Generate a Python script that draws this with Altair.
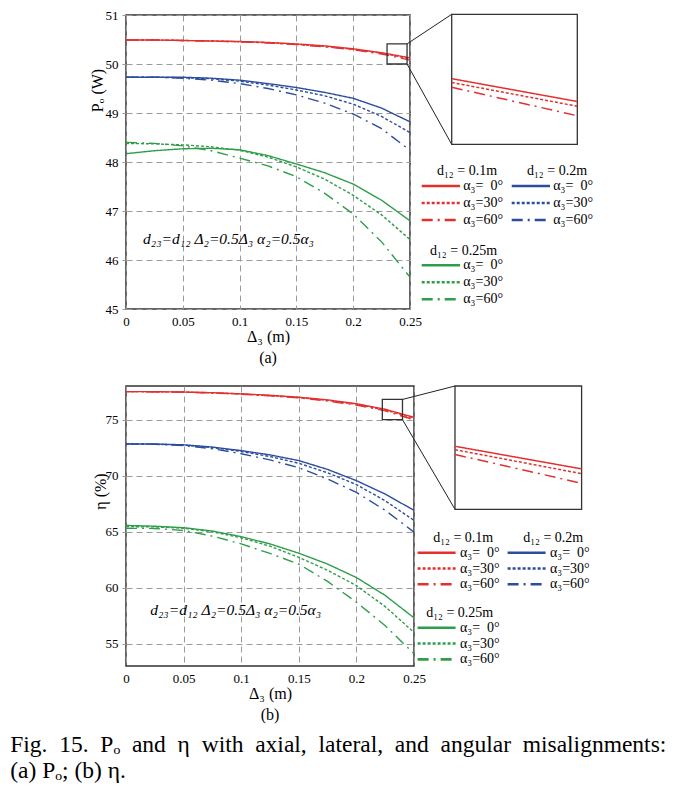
import altair as alt
import pandas as pd

FONT = "Liberation Serif"

# ---------------- data ----------------
X = [0, 0.025, 0.05, 0.075, 0.1, 0.125, 0.15, 0.175, 0.2, 0.225, 0.25]
X_TICKS = [0, 0.05, 0.1, 0.15, 0.2, 0.25]

SERIES = ["r0", "r30", "r60", "b0", "b30", "b60", "g0", "g30", "g60"]
COLORS = ["#e2302f"] * 3 + ["#2c4d9c"] * 3 + ["#2f9e4a"] * 3
DASHES = [[1, 0], [3, 2], [11, 5, 2, 5]] * 3
LEG_LABELS = ["α₃=\u20070°", "α₃=30°", "α₃=60°"] * 3
GROUP_TITLES = ["d₁₂ = 0.1m", "d₁₂ = 0.2m", "d₁₂ = 0.25m"]

# (a) Po (W)
PO_R0 = [50.49, 50.49, 50.48, 50.47, 50.46, 50.44, 50.41, 50.37, 50.31, 50.23, 50.125]
PO_R30 = [50.49, 50.49, 50.48, 50.47, 50.455, 50.435, 50.40, 50.36, 50.30, 50.22, 50.11]
PO_R60 = [50.49, 50.49, 50.48, 50.465, 50.45, 50.43, 50.395, 50.35, 50.29, 50.205, 50.08]
PO_B0 = [49.73, 49.73, 49.73, 49.71, 49.67, 49.60, 49.52, 49.42, 49.30, 49.10, 48.82]
PO_B30 = [49.73, 49.73, 49.72, 49.70, 49.65, 49.57, 49.47, 49.35, 49.18, 48.93, 48.60]
PO_B60 = [49.73, 49.73, 49.71, 49.67, 49.60, 49.50, 49.37, 49.20, 48.98, 48.68, 48.24]
PO_G0 = [48.17, 48.23, 48.27, 48.28, 48.25, 48.13, 47.96, 47.78, 47.55, 47.22, 46.80]
PO_G30 = [48.38, 48.37, 48.35, 48.31, 48.24, 48.10, 47.90, 47.65, 47.32, 46.92, 46.42]
PO_G60 = [48.40, 48.38, 48.33, 48.23, 48.08, 47.92, 47.70, 47.36, 46.94, 46.37, 45.65]
PO_ZOOM_X = [0.2298, 0.2474]
PO_ZOOM_Y = [50.0, 50.41]
PO_INSET_R0 = [50.207, 50.135]
PO_INSET_R30 = [50.195, 50.12]
PO_INSET_R60 = [50.18, 50.09]

# (b) eta (%)
ETA_R0 = [77.50, 77.49, 77.46, 77.40, 77.30, 77.17, 77.00, 76.76, 76.42, 75.92, 75.20]
ETA_R30 = [77.50, 77.49, 77.46, 77.39, 77.29, 77.15, 76.97, 76.72, 76.37, 75.86, 75.12]
ETA_R60 = [77.50, 77.49, 77.45, 77.38, 77.27, 77.12, 76.93, 76.66, 76.30, 75.78, 74.98]
ETA_B0 = [72.83, 72.82, 72.75, 72.55, 72.23, 71.85, 71.34, 70.55, 69.55, 68.35, 66.90]
ETA_B30 = [72.83, 72.81, 72.72, 72.50, 72.15, 71.70, 71.10, 70.25, 69.20, 67.75, 66.00]
ETA_B60 = [72.83, 72.80, 72.68, 72.40, 71.95, 71.40, 70.70, 69.70, 68.50, 66.90, 64.95]
ETA_G0 = [65.55, 65.48, 65.35, 65.05, 64.55, 63.90, 63.07, 62.10, 60.90, 59.30, 57.30]
ETA_G30 = [65.45, 65.42, 65.30, 64.98, 64.45, 63.70, 62.70, 61.55, 60.18, 58.30, 56.00]
ETA_G60 = [65.30, 65.28, 65.10, 64.60, 63.90, 63.05, 62.10, 60.55, 58.70, 56.60, 54.10]
ETA_ZOOM_X = [0.2225, 0.24]
ETA_ZOOM_Y = [75.0, 76.8]
ETA_INSET_R0 = [75.92, 75.59]
ETA_INSET_R30 = [75.87, 75.52]
ETA_INSET_R60 = [75.80, 75.38]

CAPTION_1 = ["Fig.", "15.", "Pₒ", "and", "η", "with", "axial,", "lateral,", "and", "angular", "misalignments:"]
CAPTION_2 = "(a) Pₒ; (b) η."

PANELS = [
    dict(
        tag="(a)", W=284, H=294, ydom=[45, 51], yticks=[45, 46, 47, 48, 49, 50, 51],
        ytitle="Pₒ (W)", ytx=-29, yty=75,
        series=[PO_R0, PO_R30, PO_R60, PO_B0, PO_B30, PO_B60, PO_G0, PO_G30, PO_G60],
        zx=PO_ZOOM_X, zy=PO_ZOOM_Y, inset=[PO_INSET_R0, PO_INSET_R30, PO_INSET_R60],
        inset_xr=[325.7, 451.3], inset_yr=[129.3, -0.7],
        note_x=0.015, note_y=46.43,
        leg=dict(x0=295.7, dx=90, y0=171, dy=17, gbase=4.66, hdr=-0.86, ln=0.426, lab=0.462, hx=0.837),
    ),
    dict(
        tag="(b)", W=288, H=280, ydom=[53, 78], yticks=[55, 60, 65, 70, 75],
        ytitle="η (%)", ytx=-26, yty=105,
        series=[ETA_R0, ETA_R30, ETA_R60, ETA_B0, ETA_B30, ETA_B60, ETA_G0, ETA_G30, ETA_G60],
        zx=ETA_ZOOM_X, zy=ETA_ZOOM_Y, inset=[ETA_INSET_R0, ETA_INSET_R30, ETA_INSET_R60],
        inset_xr=[329.0, 455.6], inset_yr=[123.3, 0.0],
        note_x=0.021, note_y=58.04,
        leg=dict(x0=291.6, dx=90, y0=166.7, dy=15.8, gbase=4.75, hdr=-0.92, ln=0.422, lab=0.471, hx=0.84),
    ),
]

COLOR = alt.Color("s:N", scale=alt.Scale(domain=SERIES, range=COLORS), legend=None)
DASH = alt.StrokeDash("s:N", scale=alt.Scale(domain=SERIES, range=DASHES), legend=None)


def make_panel(c):
    W, H = c["W"], c["H"]
    ylo, yhi = c["ydom"]
    xsc = alt.Scale(domain=[0, 0.25], nice=False, zero=False)
    ysc = alt.Scale(domain=[ylo, yhi], nice=False, zero=False)
    xax = alt.Axis(values=X_TICKS, format=".2~f", title="Δ₃ (m)", grid=True,
                   gridDash=[6, 4], gridColor="#9a9a9a", ticks=False, domain=False,
                   labelPadding=6, titlePadding=0, labelFlush=False)
    yax = alt.Axis(values=c["yticks"], title=c["ytitle"], grid=True, gridDash=[6, 4],
                   gridColor="#9a9a9a", tickSize=4, tickColor="#999999", domain=False,
                   labelPadding=4, titleAngle=270, titleX=c["ytx"], titleY=c["yty"],
                   titleAlign="center", titleBaseline="middle", labelFlush=False)

    def ex(f):
        return alt.X(f"{f}:Q", scale=xsc, axis=xax)

    def ey(f):
        return alt.Y(f"{f}:Q", scale=ysc, axis=yax)

    rows = []
    for s, ys in zip(SERIES, c["series"]):
        for x, y in zip(X, ys):
            rows.append({"s": s, "x": x, "y": y})
    df = pd.DataFrame(rows)

    lines = alt.Chart(df).mark_line(strokeWidth=1.4).encode(
        x=ex("x"), y=ey("y"), color=COLOR, strokeDash=DASH)

    note = alt.Chart(pd.DataFrame([{"x": c["note_x"], "y": c["note_y"],
                                    "t": "d₂₃=d₁₂  Δ₂=0.5Δ₃  α₂=0.5α₃"}])).mark_text(
        align="left", baseline="middle", font=FONT, fontSize=15.5, fontStyle="italic",
        color="black").encode(x=ex("x"), y=ey("y"), text="t:N")

    zx0, zx1 = c["zx"]
    zy0, zy1 = c["zy"]
    box = alt.Chart(pd.DataFrame([{"x": zx0, "x2": zx1, "y": zy0, "y2": zy1}])).mark_rect(
        fillOpacity=0, stroke="#333333", strokeWidth=1.3).encode(
        x=ex("x"), x2="x2:Q", y=ey("y"), y2="y2:Q")

    # connector endpoints: inset corners expressed in the main scale
    ixl = c["inset_xr"][0] / W * 0.25
    iyt = yhi - c["inset_yr"][1] / H * (yhi - ylo)
    iyb = yhi - c["inset_yr"][0] / H * (yhi - ylo)
    conn = alt.Chart(pd.DataFrame([
        {"x": zx1, "y": zy1, "x2": ixl, "y2": iyt},
        {"x": zx1, "y": zy0, "x2": ixl, "y2": iyb},
    ])).mark_rule(color="#222222", strokeWidth=1).encode(
        x=ex("x"), y=ey("y"), x2="x2:Q", y2="y2:Q")

    main = alt.layer(lines, note, box, conn)

    # inset
    ixsc = alt.Scale(domain=[zx0, zx1], range=c["inset_xr"], nice=False, zero=False)
    iysc = alt.Scale(domain=[zy0, zy1], range=c["inset_yr"], nice=False, zero=False)
    irows = []
    for s, ys in zip(SERIES[:3], c["inset"]):
        for x, y in zip([zx0, zx1], ys):
            irows.append({"s": s, "x": x, "y": y})
    iframe = alt.Chart(pd.DataFrame([{"x": zx0, "x2": zx1, "y": zy0, "y2": zy1}])).mark_rect(
        fill="white", stroke="#333333", strokeWidth=1.3).encode(
        x=alt.X("x:Q", scale=ixsc, axis=None), x2="x2:Q",
        y=alt.Y("y:Q", scale=iysc, axis=None), y2="y2:Q")
    ilines = alt.Chart(pd.DataFrame(irows)).mark_line(strokeWidth=1.5).encode(
        x=alt.X("x:Q", scale=ixsc, axis=None), y=alt.Y("y:Q", scale=iysc, axis=None),
        color=COLOR, strokeDash=DASH)
    inset = alt.layer(iframe, ilines)

    # custom legend
    L = c["leg"]
    lxsc = alt.Scale(domain=[0, 1], range=[L["x0"], L["x0"] + L["dx"]], nice=False, zero=False)
    lysc = alt.Scale(domain=[0, 1], range=[L["y0"], L["y0"] + L["dy"]], nice=False, zero=False)
    gcol = [0, 1, 0]
    gbase = [0, 0, L["gbase"]]
    erows = []
    for i, (s, lab) in enumerate(zip(SERIES, LEG_LABELS)):
        g, k = divmod(i, 3)
        erows.append({"s": s, "label": lab, "col": gcol[g], "slot": gbase[g] + k})
    hrows = [{"t": GROUP_TITLES[g], "col": gcol[g], "slot": gbase[g] + L["hdr"]} for g in range(3)]
    edf = pd.DataFrame(erows)
    lrule = alt.Chart(edf).transform_calculate(xe=f"datum.col + {L['ln']}").mark_rule(
        strokeWidth=2.6).encode(
        x=alt.X("col:Q", scale=lxsc, axis=None), x2="xe:Q",
        y=alt.Y("slot:Q", scale=lysc, axis=None), color=COLOR, strokeDash=DASH)
    ltext = alt.Chart(edf).transform_calculate(xl=f"datum.col + {L['lab']}").mark_text(
        align="left", baseline="middle", font=FONT, fontSize=14, color="black").encode(
        x=alt.X("xl:Q", scale=lxsc, axis=None), y=alt.Y("slot:Q", scale=lysc, axis=None),
        text="label:N")
    lhead = alt.Chart(pd.DataFrame(hrows)).transform_calculate(xh=f"datum.col + {L['hx']}").mark_text(
        align="right", baseline="middle", font=FONT, fontSize=14, color="black").encode(
        x=alt.X("xh:Q", scale=lxsc, axis=None), y=alt.Y("slot:Q", scale=lysc, axis=None),
        text="t:N")
    legend = alt.layer(lrule, ltext, lhead)

    return alt.layer(main, inset, legend).resolve_scale(
        x="independent", y="independent").properties(
        width=W, height=H,
        title=alt.TitleParams(c["tag"], orient="bottom", font=FONT, fontSize=16,
                              fontWeight="normal", color="black", offset=6))


caption = alt.TitleParams(
    [" \u00a0".join(CAPTION_1), CAPTION_2],
    orient="bottom", anchor="start", font=FONT, fontSize=23.5, fontWeight="normal",
    color="black", lineHeight=26, offset=9, dx=-78)

chart = alt.vconcat(make_panel(PANELS[0]), make_panel(PANELS[1]), spacing=17).resolve_scale(
    x="independent", y="independent").properties(
    title=caption, padding={"left": 2, "top": 0, "right": 0, "bottom": 0}
).configure_view(stroke="#333333", strokeWidth=1.5).configure_axis(
    labelFont=FONT, titleFont=FONT, labelFontSize=13, titleFontSize=16,
    titleFontWeight="normal", labelColor="black", titleColor="black")

chart.save("out.html", embed_options={"renderer": "svg", "actions": False})
